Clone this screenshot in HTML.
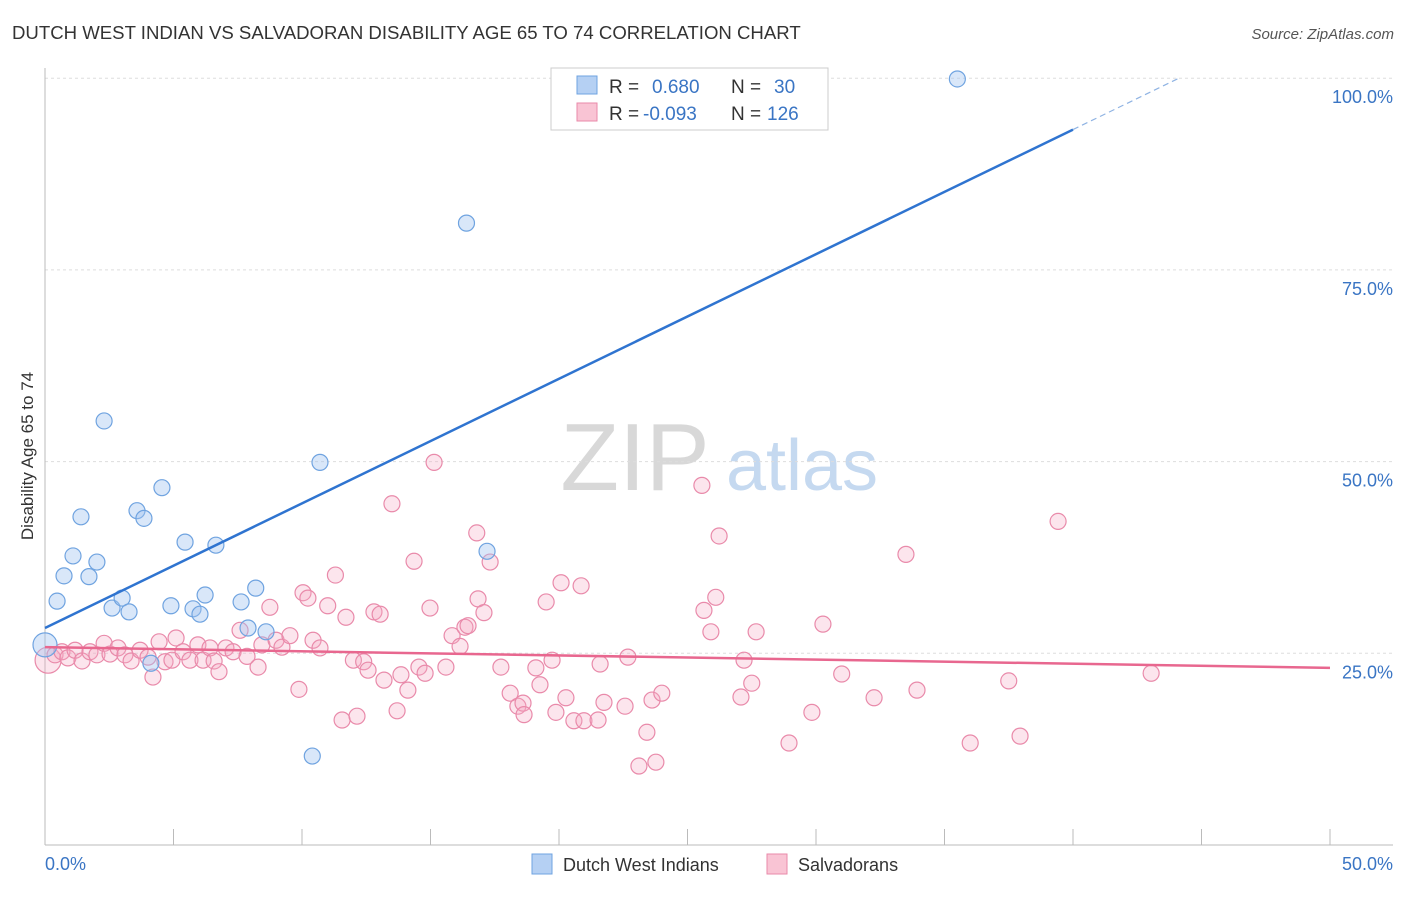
<!DOCTYPE html>
<html><head><meta charset="utf-8"><style>
body{margin:0;background:#fff;font-family:"Liberation Sans",sans-serif;}
svg text{font-family:"Liberation Sans",sans-serif;}
</style></head><body>
<svg id="chart" width="1406" height="892" viewBox="0 0 1406 892" xmlns="http://www.w3.org/2000/svg">
<text x="12" y="39" font-size="18.6" fill="#333">DUTCH WEST INDIAN VS SALVADORAN DISABILITY AGE 65 TO 74 CORRELATION CHART</text>
<text x="1394" y="39" font-size="15" fill="#555" text-anchor="end" font-style="italic">Source: ZipAtlas.com</text>
<g>
<text x="635" y="490" font-size="96" fill="#d8d8d8" text-anchor="middle" font-family="Liberation Serif, serif">ZIP</text>
<text x="802" y="490" font-size="72" fill="#c5d9f0" text-anchor="middle">atlas</text>
</g>
<g id="grid"></g>
<g id="axes"></g>
<g id="pts"></g>
<g id="lines"></g>
<text transform="translate(33,456) rotate(-90)" font-size="17" fill="#333" text-anchor="middle">Disability Age 65 to 74</text>
<g>
<rect x="551" y="68" width="277" height="62" fill="#fff" stroke="#ccc"/>
<rect x="577" y="76" width="20" height="18" fill="#b5d0f3" stroke="#6fa3e0"/>
<rect x="577" y="103" width="20" height="18" fill="#f9c4d4" stroke="#e98aaa"/>
<text x="609" y="93" font-size="19" fill="#333">R =</text>
<text x="652" y="93" font-size="19" fill="#3a75c4">0.680</text>
<text x="731" y="93" font-size="19" fill="#333">N =</text>
<text x="774" y="93" font-size="19" fill="#3a75c4">30</text>
<text x="609" y="120" font-size="19" fill="#333">R =</text>
<text x="643" y="120" font-size="19" fill="#3a75c4">-0.093</text>
<text x="731" y="120" font-size="19" fill="#333">N =</text>
<text x="767" y="120" font-size="19" fill="#3a75c4">126</text>
</g>
<g>
<rect x="532" y="854" width="20" height="20" fill="#b5d0f3" stroke="#6fa3e0"/>
<text x="563" y="871" font-size="18" fill="#333">Dutch West Indians</text>
<rect x="767" y="854" width="20" height="20" fill="#f9c4d4" stroke="#e98aaa"/>
<text x="798" y="871" font-size="18" fill="#333">Salvadorans</text>
</g>
</svg>
<script>
const blueX=[0,0.47,0.74,1.09,1.4,1.71,2.02,2.3,2.61,3.0,3.27,3.58,3.85,4.12,4.55,4.9,5.45,5.76,6.03,6.23,6.65,7.63,7.9,8.2,8.6,10.4,10.7,16.4,17.2,35.5];
const blueY=[26.1,31.8,35.1,37.7,42.8,35.0,36.9,55.3,30.9,32.2,30.4,43.6,42.6,23.7,46.6,31.2,39.5,30.8,30.1,32.6,39.1,31.7,28.3,33.5,27.8,11.6,49.9,81.1,38.3,99.9];
const pinkX=[0.12,0.39,0.66,0.89,1.17,1.44,1.75,2.02,2.3,2.53,2.84,3.11,3.35,3.7,4.01,4.2,4.44,4.67,4.94,5.1,5.37,5.64,5.95,6.15,6.42,6.58,6.77,7.04,7.32,7.59,7.86,8.29,8.44,8.75,8.99,9.22,9.53,9.88,10.04,10.23,10.43,10.7,11.0,11.3,11.56,11.71,12.0,12.14,12.4,12.57,12.8,13.04,13.19,13.5,13.7,13.85,14.12,14.36,14.55,14.79,14.98,15.14,15.6,15.84,16.15,16.34,16.46,16.8,16.85,17.08,17.32,17.74,18.1,18.4,18.6,18.64,19.1,19.26,19.5,19.73,19.88,20.08,20.27,20.58,20.86,20.97,21.52,21.6,21.75,22.57,22.68,23.11,23.42,23.62,23.77,24.0,25.56,25.64,25.91,26.1,26.23,27.2,27.08,27.5,27.67,28.95,29.84,30.27,31.0,32.26,33.5,33.93,36.0,37.5,37.94,39.42,43.04];
const pinkY=[24.1,24.8,25.2,24.4,25.4,24.0,25.2,24.8,26.3,24.9,25.7,24.8,24.0,25.4,24.5,21.9,26.5,23.9,24.1,27.0,25.2,24.1,26.1,24.1,25.7,24.0,22.6,25.7,25.2,28.0,24.6,23.2,26.1,31.0,26.7,25.8,27.3,20.3,32.9,32.2,26.7,25.7,31.2,35.2,16.3,29.7,24.1,16.8,23.9,22.8,30.4,30.1,21.5,44.5,17.5,22.2,20.2,37.0,23.2,22.4,30.9,49.9,23.2,27.3,25.9,28.4,28.6,40.7,32.1,30.3,36.9,23.2,19.8,18.1,18.5,17.0,23.1,20.9,31.7,24.1,17.3,34.2,19.2,16.2,33.8,16.2,16.3,23.6,18.6,18.1,24.5,10.3,14.7,18.9,10.8,19.8,46.9,30.6,27.8,32.3,40.3,24.1,19.3,21.1,27.8,13.3,17.3,28.8,22.3,19.2,37.9,20.2,13.3,21.4,14.2,42.2,22.4];
const yTicks=[25,50,75,100];
const yTickLabels=["25.0%","50.0%","75.0%","100.0%"];
const xTicks=[0,5,10,15,20,25,30,35,40,45,50];
const blueFit=[28.3,1.625];
const pinkFit=[25.8,-0.054];
const NS="http://www.w3.org/2000/svg";
const X=v=>45+v*25.7, Y=v=>845-v*7.668;
function mk(tag,attrs,parent){const e=document.createElementNS(NS,tag);for(const k in attrs)e.setAttribute(k,attrs[k]);parent.appendChild(e);return e;}
const grid=document.getElementById('grid'),axes=document.getElementById('axes'),pts=document.getElementById('pts'),lines=document.getElementById('lines');
yTicks.forEach((t,i)=>{
 const l=mk('line',{x1:45,x2:1393,y1:Y(t),y2:Y(t),stroke:'#ddd','stroke-dasharray':'3,3'},grid);
 
 
 const tx=mk('text',{x:1393,y:Y(t)+25,'font-size':18,fill:'#3a75c4','text-anchor':'end'},axes);
 tx.textContent=yTickLabels[i];
 
 
});
mk('line',{x1:45,x2:45,y1:68,y2:845,stroke:'#bbb'},axes);
mk('line',{x1:45,x2:1393,y1:845,y2:845,stroke:'#bbb'},axes);
xTicks.forEach(t=>{const l=mk('line',{x1:X(t),x2:X(t),y1:829,y2:845,stroke:'#bbb'},axes);
 
 });
let a=mk('text',{x:45,y:870,'font-size':18,fill:'#3a75c4'},axes);a.textContent='0.0%';


a=mk('text',{x:1393,y:870,'font-size':18,fill:'#3a75c4','text-anchor':'end'},axes);a.textContent='50.0%';


pinkX.forEach((x,i)=>{const c=mk('circle',{cx:X(x),cy:Y(pinkY[i]),r:i==0?13:8,fill:'rgba(245,170,195,0.3)',stroke:'#e98aaa','stroke-width':1.2},pts);
 
 });
blueX.forEach((x,i)=>{const c=mk('circle',{cx:X(x),cy:Y(blueY[i]),r:i==0?12:8,fill:'rgba(160,196,240,0.4)',stroke:'#6fa3e0','stroke-width':1.2},pts);
 
 });
const bx1=40,bx2=(100-blueFit[0])/blueFit[1];
let ln=mk('line',{x1:X(0),y1:Y(blueFit[0]),x2:X(bx1),y2:Y(blueFit[0]+blueFit[1]*bx1),stroke:'#2f74d0','stroke-width':2.5},lines);


ln=mk('line',{x1:X(bx1),y1:Y(blueFit[0]+blueFit[1]*bx1),x2:X(bx2),y2:Y(100),stroke:'#8fb3e3','stroke-width':1.2,'stroke-dasharray':'6,4'},lines);


ln=mk('line',{x1:X(0),y1:Y(pinkFit[0]),x2:X(50),y2:Y(pinkFit[0]+pinkFit[1]*50),stroke:'#e8678f','stroke-width':2.5},lines);


</script>
</body></html>
